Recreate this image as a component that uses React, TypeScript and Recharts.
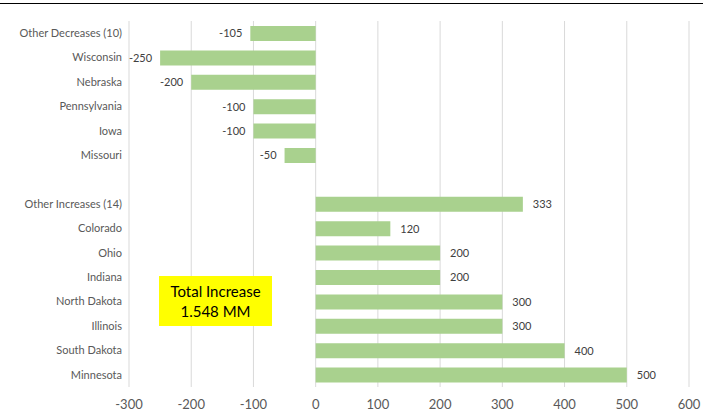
import React from 'react';
import { BarChart, Bar, XAxis, YAxis, CartesianGrid, LabelList } from 'recharts';

const STATES = [
  'Other Decreases (10)',
  'Wisconsin',
  'Nebraska',
  'Pennsylvania',
  'Iowa',
  'Missouri',
  ' ',
  'Other Increases (14)',
  'Colorado',
  'Ohio',
  'Indiana',
  'North Dakota',
  'Illinois',
  'South Dakota',
  'Minnesota',
];

const CHANGES: (number | null)[] = [-105, -250, -200, -100, -100, -50, null, 333, 120, 200, 200, 300, 300, 400, 500];

const X_TICKS = [-300, -200, -100, 0, 100, 200, 300, 400, 500, 600];

const data = STATES.map((name, i) => ({ name, change: CHANGES[i] }));

const FONT = 'Lato, "Liberation Sans", sans-serif';

const ValueLabel = (props: any) => {
  const { x, y, width, height, value } = props;
  if (value === null || value === undefined) return null;
  const left = Math.min(x, x + width);
  const right = Math.max(x, x + width);
  const neg = value < 0;
  return (
    <text
      x={neg ? left - 8 : right + 10}
      y={y + height / 2}
      dy="0.35em"
      textAnchor={neg ? 'end' : 'start'}
      fontSize={11}
      fill="#404040"
      fontFamily={FONT}
    >
      {value}
    </text>
  );
};

const StateTick = (props: any) => {
  const { x, y, payload } = props;
  return (
    <text x={x} y={y} dy="0.35em" textAnchor="end" fontSize={11} fill="#595959" fontFamily={FONT}>
      {payload.value}
    </text>
  );
};

export default function App() {
  return (
    <div style={{ position: 'absolute', left: 0, top: 0, width: 703, height: 411, background: '#fff', overflow: 'hidden' }}>
      <div style={{ position: 'absolute', left: 0, top: 3, width: 703, height: 1, background: '#000' }} />
      <BarChart
        width={703}
        height={411}
        data={data}
        layout="vertical"
        margin={{ top: 21, right: 14, bottom: 0, left: 0 }}
        barSize={15}
      >
        <CartesianGrid horizontal={false} stroke="#d9d9d9" />
        <XAxis
          type="number"
          domain={[-300, 600]}
          ticks={X_TICKS}
          interval={0}
          axisLine={false}
          tickLine={false}
          height={24}
          tickMargin={7}
          tick={{ fontSize: 13, fill: '#595959', fontFamily: FONT }}
        />
        <YAxis
          type="category"
          dataKey="name"
          width={129}
          axisLine={false}
          tickLine={false}
          tickMargin={1}
          interval={0}
          tick={<StateTick />}
        />
        <Bar dataKey="change" fill="#a9d18e" isAnimationActive={false}>
          <LabelList dataKey="change" content={ValueLabel} />
        </Bar>
      </BarChart>
      <div
        style={{
          position: 'absolute',
          left: 159,
          top: 276,
          width: 113,
          height: 50,
          background: '#ffff00',
          color: '#000',
          fontFamily: FONT,
          fontSize: 15,
          lineHeight: '20px',
          textAlign: 'center',
          display: 'flex',
          flexDirection: 'column',
          justifyContent: 'center',
        }}
      >
        <div>Total Increase</div>
        <div>1.548 MM</div>
      </div>
    </div>
  );
}
